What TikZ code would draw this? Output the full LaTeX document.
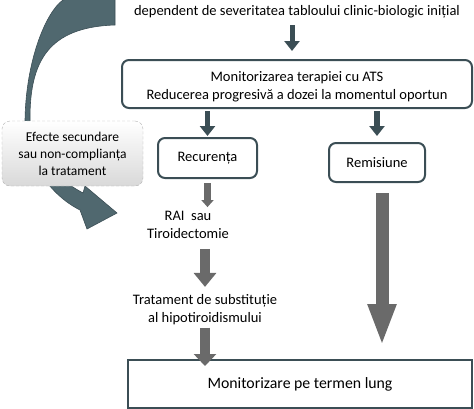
\documentclass[tikz,border=0pt]{standalone}
\usepackage{fontspec}
\setmainfont{Carlito}
\usepackage{xcolor}
\usepackage{tikz}
\usetikzlibrary{calc}
\usetikzlibrary{positioning}
\usetikzlibrary{arrows.meta}
\definecolor{slate}{HTML}{3B4E55}
\definecolor{curvefill}{HTML}{50686F}
\definecolor{arrowgray}{HTML}{6A6A6A}

\begin{document}
\begin{tikzpicture}[x=1pt, y=-1pt]

                % Boxes, texts and the two kinds of block arrows
                \tikzset{
                    every node/.style={font=\fontsize{14.5}{18}\selectfont,
                        align=center, inner sep=0pt},
                    box/.style={draw=slate, line width=2pt, rounded corners=7pt},
                    darrow/.style={draw=slate, line width=5pt,
                        -{Triangle[width=15pt, length=10pt]}},
                    garrow/.style n args={3}{draw=arrowgray, line width=#1,
                        -{Triangle[width=#2, length=#3]}}
                }

                \useasboundingbox (0,0) rectangle (474,408);

                % Curved arrow, behind the side box
                \filldraw[fill=curvefill, draw=slate, line width=0.6pt]
                    (115,-12) -- (63,0) .. controls (46,12) and (26,60) .. (25,120)
                    .. controls (25,160) and (50,195) .. (80,210)
                    -- (87,229) -- (117,213) -- (85,186) -- (83,193)
                    .. controls (45,172) and (30,150) .. (30,118)
                    .. controls (30,62) and (48,27) .. (115,25) -- cycle;

                \begin{scope}
                    \node (hdr) at (297,11.6)
                    {dependent de severitatea tabloului clinic-biologic inițial};
                    \node (mon) [box, minimum width=350pt, minimum height=48pt]
                        at (297,84)
                    {\rule{0pt}{16pt}Monitorizarea terapiei cu ATS\\
                     Reducerea progresivă a dozei la momentul oportun};
                    \node (rec) [box, minimum width=99pt, minimum height=40pt]
                        at (207.5,158) {Recurența};
                    \node (rem) [box, minimum width=96pt, minimum height=39pt]
                        at (377,162.5) {Remisiune};
                    \node (efe) [draw=gray!60, densely dashed, rounded corners=8pt,
                        top color=white, bottom color=gray!30,
                        minimum width=141pt, minimum height=65pt,
                        font=\fontsize{13.5}{17}\selectfont]
                        at (72.5,153.5)
                    {Efecte secundare\\sau non-complianța\\la tratament};
                    \node (rai) at (188,225) {RAI\ \ sau\\Tiroidectomie};
                    \node (trat) at (205,309.8)
                    {Tratament de substituție\\al hipotiroidismului};
                    \node (bot) [draw=slate, line width=2pt,
                        minimum width=344pt, minimum height=48pt,
                        font=\fontsize{15.8}{19}\selectfont]
                        at (300,384) {Monitorizare pe termen lung};
                \end{scope}

                \begin{scope}
                    \draw[darrow, shorten <=7pt, shorten >=8pt]
                        ([xshift=-5pt]hdr.south) -- ([xshift=-5pt]mon.north);
                    \draw[darrow, shorten <=2pt, shorten >=1pt]
                        (mon.south -| rec.north) -- (rec.north);
                    \draw[darrow, line width=6pt, shorten <=2pt, shorten >=6pt]
                        (mon.south -| rem.north) -- (rem.north);
                    \draw[garrow={7pt}{12pt}{7pt}, shorten <=4pt, shorten >=4pt]
                        (rec.south) -- (rai.north -| rec.south);
                    \draw[garrow={10pt}{22pt}{14pt}, shorten <=10pt, shorten >=7.5pt]
                        (rai.south -| trat.north) -- (trat.north);
                    \draw[garrow={10pt}{22pt}{12pt}, shorten <=2.5pt, shorten >=-7pt]
                        (trat.south) -- (bot.north -| trat.south);
                    \draw[garrow={13pt}{26pt}{42pt}, shorten <=10pt, shorten >=13pt]
                        ($(rem.south)+(5,0)$) -- ($(bot.north -| rem.south)+(5,0)$);
                \end{scope}

                \end{tikzpicture}
\end{document}
